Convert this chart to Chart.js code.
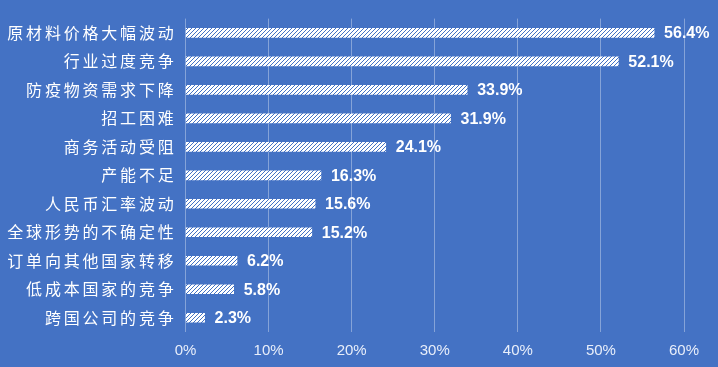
<!DOCTYPE html>
<html>
<head>
<meta charset="utf-8">
<script src="https://cdn.jsdelivr.net/npm/chart.js@4/dist/chart.umd.min.js"></script>
<style>
  html, body { margin:0; padding:0; background:#4472c4; }
  canvas { display:block; }
</style>
</head>
<body>
<canvas id="c" width="718" height="367"></canvas>
<script>
const categories = ['原材料价格大幅波动','行业过度竞争','防疫物资需求下降','招工困难','商务活动受阻','产能不足','人民币汇率波动','全球形势的不确定性','订单向其他国家转移','低成本国家的竞争','跨国公司的竞争'];
const shares = [56.4, 52.1, 33.9, 31.9, 24.1, 16.3, 15.6, 15.2, 6.2, 5.8, 2.3];
const xTicks = [0, 10, 20, 30, 40, 50, 60];

const BG = '#4472c4';

// white bars with thin blue diagonal stripes
function hatch() {
  const c = document.createElement('canvas');
  c.width = 4; c.height = 4;
  const g = c.getContext('2d');
  g.fillStyle = '#ffffff';
  g.fillRect(0, 0, 4, 4);
  g.strokeStyle = BG;
  g.lineWidth = 1;
  g.beginPath();
  g.moveTo(-1, 5); g.lineTo(5, -1);
  g.moveTo(-1, 1); g.lineTo(1, -1);
  g.moveTo(3, 5); g.lineTo(5, 3);
  g.stroke();
  return g.createPattern(c, 'repeat');
}

const ctx = document.getElementById('c').getContext('2d');

const valueLabels = {
  id: 'valueLabels',
  afterDatasetsDraw(chart) {
    const g = chart.ctx;
    const meta = chart.getDatasetMeta(0);
    g.save();
    g.font = 'bold 16px "Liberation Sans", Arial, sans-serif';
    g.fillStyle = '#ffffff';
    g.textAlign = 'left';
    g.textBaseline = 'middle';
    meta.data.forEach((bar, i) => {
      g.fillText(shares[i].toFixed(1) + '%', bar.x + 10, bar.y + 1);
    });
    g.restore();
  }
};

// category labels are spaced out in the original
const spacedLabels = {
  id: 'spacedLabels',
  beforeDraw(chart) {
    const y = chart.scales.y;
    if (y.__spaced) return;
    const orig = y.drawLabels.bind(y);
    y.drawLabels = function(area) {
      chart.ctx.save();
      chart.ctx.letterSpacing = '2.8px';
      orig(area);
      chart.ctx.restore();
    };
    y.__spaced = true;
  }
};

new Chart(ctx, {
  type: 'bar',
  data: {
    labels: categories,
    datasets: [{
      data: shares,
      backgroundColor: hatch(),
      borderWidth: 0,
      barThickness: 9
    }]
  },
  options: {
    indexAxis: 'y',
    responsive: false,
    animation: false,
    layout: { padding: { top: 15, right: 34, left: 0, bottom: 0 } },
    plugins: { legend: { display: false }, tooltip: { enabled: false } },
    scales: {
      x: {
        min: 0, max: 60,
        afterBuildTicks: s => { s.ticks = xTicks.map(v => ({ value: v })); },
        grid: { color: 'rgba(255,255,255,0.35)', drawTicks: false, lineWidth: 1 },
        border: { display: false },
        ticks: {
          color: '#e8eefa',
          font: { size: 15, family: '"Liberation Sans", Arial, sans-serif' },
          padding: 10,
          callback: v => v + '%'
        },
        afterFit: s => { s.height = 35; }
      },
      y: {
        grid: { display: false, drawTicks: false },
        border: { display: false },
        ticks: {
          color: '#ffffff',
          font: { size: 16, family: '"Noto Sans CJK SC", sans-serif' },
          padding: 9
        },
        afterFit: s => { s.width = 185.5; }
      }
    }
  },
  plugins: [valueLabels, spacedLabels]
});
</script>
</body>
</html>
